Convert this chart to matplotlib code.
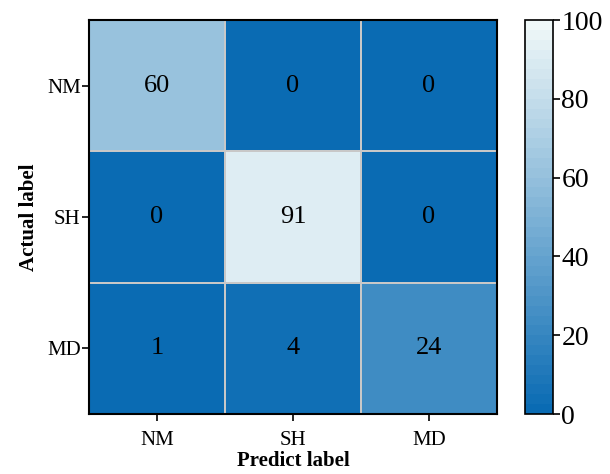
import matplotlib
matplotlib.use("Agg")
import matplotlib.pyplot as plt
import numpy as np
from matplotlib.colors import LinearSegmentedColormap

# --- Data ---
class_names = ["NM", "SH", "MD"]
row_nm = [60, 0, 0]
row_sh = [0, 91, 0]
row_md = [1, 4, 24]
cm = np.array([row_nm, row_sh, row_md])

plt.rcParams["font.family"] = ["Liberation Serif", "DejaVu Serif"]

# --- Colormap: blue to near white, stepped ---
cmap = LinearSegmentedColormap.from_list("blue_white", ["#0a6bb3", "#f0f8f8"], N=40)

fig = plt.figure(figsize=(6.10, 4.74), dpi=100)
ax = fig.add_axes([89 / 610, 60 / 474, 408 / 610, 394 / 474])
cax = fig.add_axes([525 / 610, 60 / 474, 28 / 610, 394 / 474])

mesh = ax.pcolormesh(cm, cmap=cmap, vmin=0, vmax=100,
                     edgecolors="#c8c8c8", linewidth=1.2)
ax.set_xlim(0, 3)
ax.set_ylim(3, 0)

for i in range(cm.shape[0]):
    for j in range(cm.shape[1]):
        ax.text(j + 0.5, i + 0.5, str(cm[i, j]), ha="center", va="center",
                fontsize=19, color="black")

ax.set_xticks(np.arange(3) + 0.5)
ax.set_yticks(np.arange(3) + 0.5)
ax.set_xticklabels(class_names, fontsize=15)
ax.set_yticklabels(class_names, fontsize=15)
ax.tick_params(length=5, width=1.2, pad=7, axis="x")
ax.tick_params(length=5, width=1.2, pad=1, axis="y")
for s in ax.spines.values():
    s.set_linewidth(1.5)
ax.set_xlabel("Predict label", fontsize=15, fontweight="bold", labelpad=1)
ax.set_ylabel("Actual label", fontsize=15, fontweight="bold", labelpad=6)

cbar = fig.colorbar(mesh, cax=cax)
cbar.set_ticks([0, 20, 40, 60, 80, 100])
cbar.ax.tick_params(labelsize=20, length=5, width=1.2, pad=1)
cbar.outline.set_linewidth(1.2)

fig.savefig("out.png", dpi=100)
